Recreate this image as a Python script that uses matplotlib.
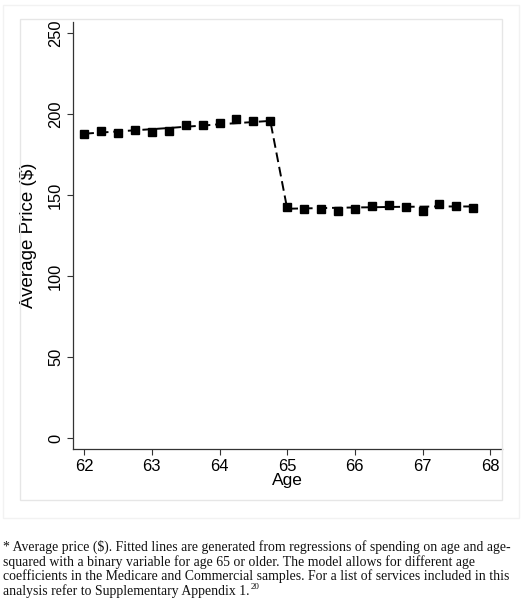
import matplotlib
matplotlib.use("Agg")
import matplotlib.pyplot as plt
from matplotlib.patches import Rectangle

# ---- data ----
age_before = [62.0, 62.25, 62.5, 62.75, 63.0, 63.25, 63.5, 63.75, 64.0, 64.25, 64.5, 64.75]
price_before = [188.0, 189.7, 188.5, 190.0, 189.0, 189.3, 193.4, 193.4, 194.6, 196.7, 195.7, 195.5]
fit_before = [187.9, 188.6, 189.3, 190.0, 190.7, 191.4, 192.2, 192.9, 193.7, 194.4, 195.1, 195.8]

age_after = [65.0, 65.25, 65.5, 65.75, 66.0, 66.25, 66.5, 66.75, 67.0, 67.25, 67.5, 67.75]
price_after = [142.4, 141.4, 141.2, 140.0, 141.2, 143.0, 143.6, 142.8, 140.5, 144.4, 143.4, 142.0]
fit_after = [141.6, 141.8, 142.0, 142.2, 142.4, 142.5, 142.7, 142.8, 142.9, 143.0, 143.0, 143.0]

x_ticks = [62, 63, 64, 65, 66, 67, 68]
y_ticks = [0, 50, 100, 150, 200, 250]
x_label = "Age"
y_label = "Average Price ($)"
footnote_lines = [
    "* Average price ($). Fitted lines are generated from regressions of spending on age and age-",
    "squared with a binary variable for age 65 or older. The model allows for different age",
    "coefficients in the Medicare and Commercial samples. For a list of services included in this",
    "analysis refer to Supplementary Appendix 1.",
]
footnote_sup = "20"

W, H = 522, 600
fig = plt.figure(figsize=(W / 100, H / 100), dpi=100)
fig.patch.set_facecolor("white")

def fx(px):
    return px / W

def fy(py):
    return 1 - py / H

# light graph-region box
fig.patches.append(Rectangle((fx(20), fy(500)), (502 - 20) / W, (500 - 19) / H,
                             transform=fig.transFigure, fill=False,
                             edgecolor="#e6e6e6", linewidth=1.0))
fig.patches.append(Rectangle((fx(3), fy(518)), (519 - 3) / W, (518 - 5) / H,
                             transform=fig.transFigure, fill=False,
                             edgecolor="#f2f2f2", linewidth=1.0))

left, right, top, bottom = 72.7, 501.7, 22, 449.3
ax = fig.add_axes([fx(left), fy(bottom), (right - left) / W, (bottom - top) / H])

font = "Liberation Sans"

ax.plot(age_before + age_after, fit_before + fit_after, color="black",
        linestyle=(0, (5, 2.5)), linewidth=1.4, zorder=2)
ax.plot(age_before + age_after, price_before + price_after, linestyle="none",
        marker="s", markersize=5.3, color="black", zorder=3)

ax.set_xlim(61.83, 68.17)
ax.set_ylim(-6.8, 256.8)
ax.set_xticks(x_ticks)
ax.set_yticks(y_ticks)
ax.set_xticklabels([str(t) for t in x_ticks], fontname=font, fontsize=12)
ax.set_yticklabels([str(t) for t in y_ticks], fontname=font, fontsize=11.8,
                   rotation=90, va="center")
ax.tick_params(axis="both", length=4, width=0.8, color="#333333", pad=3)
ax.set_xlabel(x_label, fontname=font, fontsize=12.5, labelpad=-1)
ax.set_ylabel(y_label, fontname=font, fontsize=13.5, labelpad=8)
for s in ["top", "right"]:
    ax.spines[s].set_visible(False)
for s in ["left", "bottom"]:
    ax.spines[s].set_linewidth(0.9)
    ax.spines[s].set_color("#333333")

# footnote
serif = "Liberation Serif"
y0 = 547
dy = 14.8
texts = []
for i, line in enumerate(footnote_lines):
    t = fig.text(fx(3), fy(y0 + i * dy), line, fontname=serif, fontsize=9.9,
                 ha="left", va="center", color="#111111")
    texts.append(t)

fig.canvas.draw()
r = fig.canvas.get_renderer()
bb = texts[-1].get_window_extent(renderer=r)
fig.text(bb.x1 / W + 0.002, fy(y0 + 3 * dy) + 0.008, footnote_sup, fontname=serif,
         fontsize=6.5, ha="left", va="center", color="#111111")

fig.savefig("out.png", dpi=100, facecolor="white")
